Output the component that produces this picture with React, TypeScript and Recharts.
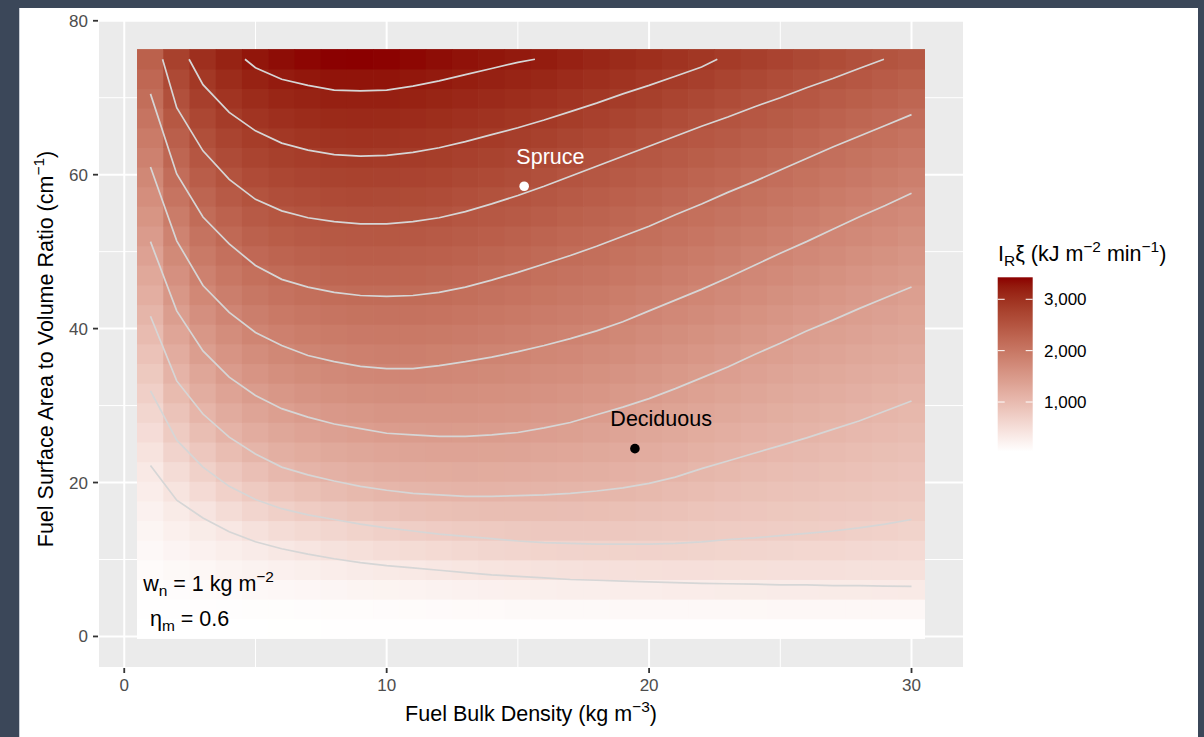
import React from "react";
import { ScatterChart, Scatter, XAxis, YAxis, CartesianGrid } from "recharts";

const FONT = '"Liberation Sans", Arial, Helvetica, sans-serif';

// grid of the raster: bulk density (kg m-3) by surface-area-to-volume ratio (cm-1)
const bulkDensity = [
  1, 2, 3, 4, 5, 6, 7, 8, 9, 10, 11, 12, 13, 14, 15, 16, 17, 18, 19, 20, 21,
  22, 23, 24, 25, 26, 27, 28, 29, 30,
];
const savRatio = [
  1.0, 3.55, 6.1, 8.66, 11.21, 13.76, 16.31, 18.86, 21.41, 23.97, 26.52, 29.07,
  31.62, 34.17, 36.72, 39.28, 41.83, 44.38, 46.93, 49.48, 52.03, 54.59, 57.14,
  59.69, 62.24, 64.79, 67.34, 69.9, 72.45, 75.0,
];

// I_R * xi (kJ m-2 min-1), one row per bulk density, low -> high SAV ratio
const intensity: number[][] = [
  [33, 45, 52, 88, 129, 176, 227, 282, 341, 426, 520, 615, 710, 804, 899, 994, 1089, 1183, 1278, 1372, 1467, 1562, 1657, 1751, 1847, 1944, 2040, 2137, 2234, 2331],
  [35, 50, 73, 123, 181, 247, 318, 414, 531, 649, 768, 887, 1006, 1118, 1219, 1321, 1421, 1522, 1623, 1724, 1826, 1932, 2038, 2143, 2250, 2356, 2463, 2570, 2677, 2784],
  [36, 55, 90, 152, 224, 304, 410, 549, 688, 823, 956, 1087, 1199, 1311, 1423, 1532, 1640, 1748, 1854, 1957, 2060, 2164, 2271, 2377, 2484, 2591, 2697, 2805, 2911, 3018],
  [37, 60, 108, 183, 269, 370, 525, 681, 827, 971, 1109, 1226, 1344, 1460, 1569, 1679, 1788, 1892, 1995, 2099, 2204, 2314, 2423, 2532, 2638, 2743, 2849, 2954, 3060, 3166],
  [38, 65, 126, 213, 313, 456, 622, 785, 940, 1093, 1214, 1334, 1454, 1566, 1678, 1790, 1896, 2002, 2107, 2214, 2320, 2427, 2534, 2637, 2740, 2843, 2952, 3064, 3176, 3288],
  [39, 68, 141, 238, 351, 523, 700, 871, 1041, 1173, 1294, 1415, 1529, 1641, 1753, 1862, 1969, 2075, 2181, 2285, 2388, 2491, 2595, 2700, 2804, 2910, 3021, 3132, 3242, 3357],
  [40, 72, 155, 262, 396, 576, 755, 932, 1100, 1223, 1345, 1466, 1580, 1695, 1809, 1912, 2016, 2119, 2221, 2323, 2425, 2528, 2632, 2736, 2841, 2948, 3057, 3167, 3279, 3395],
  [41, 76, 169, 286, 438, 618, 800, 984, 1139, 1263, 1387, 1505, 1619, 1732, 1841, 1943, 2045, 2147, 2247, 2347, 2447, 2549, 2654, 2760, 2865, 2974, 3083, 3193, 3305, 3420],
  [41, 81, 182, 308, 476, 660, 846, 1033, 1172, 1295, 1417, 1532, 1645, 1759, 1863, 1964, 2063, 2163, 2262, 2361, 2459, 2560, 2665, 2769, 2873, 2981, 3089, 3198, 3309, 3428],
  [42, 86, 194, 329, 508, 695, 882, 1070, 1197, 1322, 1445, 1554, 1664, 1773, 1874, 1972, 2069, 2167, 2265, 2362, 2460, 2560, 2663, 2766, 2869, 2977, 3085, 3193, 3304, 3416],
  [42, 91, 204, 346, 533, 724, 912, 1092, 1213, 1334, 1453, 1560, 1667, 1774, 1873, 1970, 2066, 2163, 2259, 2354, 2450, 2548, 2650, 2752, 2854, 2959, 3066, 3173, 3281, 3390],
  [42, 96, 215, 365, 560, 752, 932, 1102, 1223, 1344, 1460, 1560, 1660, 1760, 1858, 1955, 2051, 2148, 2242, 2336, 2429, 2524, 2626, 2728, 2830, 2933, 3039, 3145, 3250, 3357],
  [43, 101, 227, 388, 583, 773, 949, 1110, 1228, 1346, 1459, 1554, 1649, 1743, 1838, 1933, 2028, 2122, 2214, 2304, 2394, 2484, 2584, 2689, 2795, 2900, 3006, 3112, 3217, 3323],
  [43, 106, 240, 411, 606, 789, 956, 1110, 1224, 1340, 1451, 1541, 1631, 1721, 1812, 1904, 1995, 2087, 2179, 2271, 2363, 2455, 2550, 2655, 2759, 2863, 2970, 3077, 3183, 3290],
  [43, 111, 249, 427, 627, 803, 959, 1105, 1217, 1329, 1441, 1528, 1616, 1703, 1790, 1879, 1967, 2055, 2144, 2236, 2328, 2421, 2514, 2618, 2722, 2826, 2933, 3041, 3149, 3257],
  [43, 115, 259, 443, 643, 811, 959, 1099, 1205, 1310, 1416, 1507, 1594, 1680, 1767, 1852, 1936, 2021, 2105, 2192, 2285, 2378, 2471, 2570, 2677, 2783, 2891, 3004, 3118, 3231],
  [44, 120, 269, 457, 652, 812, 953, 1090, 1190, 1290, 1390, 1483, 1569, 1654, 1740, 1825, 1905, 1986, 2066, 2147, 2237, 2331, 2423, 2516, 2625, 2734, 2843, 2955, 3067, 3179],
  [44, 122, 275, 464, 659, 812, 945, 1078, 1171, 1264, 1357, 1449, 1535, 1621, 1706, 1793, 1875, 1957, 2039, 2121, 2206, 2295, 2383, 2471, 2570, 2682, 2794, 2906, 3017, 3127],
  [44, 125, 281, 470, 661, 807, 933, 1058, 1153, 1242, 1330, 1418, 1502, 1585, 1668, 1751, 1833, 1915, 1997, 2079, 2161, 2250, 2338, 2426, 2514, 2626, 2740, 2853, 2965, 3075],
  [44, 127, 287, 475, 662, 800, 916, 1033, 1129, 1213, 1297, 1380, 1463, 1543, 1624, 1705, 1785, 1868, 1952, 2035, 2118, 2205, 2293, 2381, 2469, 2570, 2686, 2803, 2916, 3026],
  [44, 130, 293, 477, 657, 789, 896, 1003, 1102, 1182, 1262, 1342, 1422, 1502, 1581, 1662, 1741, 1822, 1905, 1987, 2070, 2153, 2243, 2333, 2423, 2513, 2628, 2746, 2864, 2977],
  [45, 133, 299, 477, 647, 775, 872, 969, 1065, 1146, 1224, 1302, 1380, 1458, 1538, 1618, 1698, 1777, 1859, 1942, 2025, 2108, 2194, 2284, 2375, 2466, 2569, 2688, 2808, 2925],
  [45, 134, 303, 473, 633, 761, 851, 941, 1031, 1115, 1190, 1265, 1340, 1416, 1493, 1573, 1652, 1731, 1811, 1893, 1976, 2059, 2142, 2233, 2327, 2420, 2514, 2631, 2748, 2866],
  [45, 136, 306, 472, 625, 751, 835, 918, 1002, 1085, 1156, 1228, 1300, 1372, 1444, 1523, 1602, 1681, 1761, 1842, 1926, 2011, 2095, 2182, 2277, 2371, 2466, 2571, 2688, 2806],
  [45, 139, 313, 470, 614, 740, 819, 897, 976, 1054, 1127, 1196, 1265, 1334, 1403, 1476, 1555, 1633, 1712, 1790, 1874, 1960, 2045, 2130, 2223, 2320, 2418, 2516, 2633, 2751],
  [45, 139, 313, 465, 602, 730, 804, 879, 953, 1027, 1099, 1165, 1231, 1297, 1363, 1429, 1506, 1585, 1664, 1744, 1824, 1910, 1995, 2080, 2165, 2265, 2365, 2465, 2573, 2691],
  [45, 142, 320, 464, 594, 722, 791, 861, 930, 1000, 1070, 1135, 1200, 1264, 1329, 1394, 1462, 1540, 1618, 1696, 1773, 1857, 1943, 2028, 2114, 2208, 2311, 2415, 2518, 2635],
  [45, 142, 320, 459, 581, 704, 777, 843, 909, 976, 1042, 1106, 1169, 1232, 1295, 1358, 1421, 1494, 1571, 1648, 1725, 1803, 1891, 1978, 2065, 2153, 2256, 2360, 2465, 2575],
  [45, 144, 324, 454, 568, 682, 762, 824, 887, 949, 1012, 1074, 1137, 1199, 1262, 1324, 1387, 1451, 1528, 1604, 1681, 1758, 1839, 1928, 2016, 2104, 2199, 2307, 2413, 2520],
  [45, 145, 327, 449, 555, 660, 746, 806, 865, 925, 985, 1044, 1105, 1167, 1229, 1291, 1353, 1415, 1485, 1560, 1636, 1711, 1786, 1874, 1964, 2054, 2144, 2250, 2359, 2469],
];

// contour lines (y at each bulk density)
const contour1Y = [22.2, 17.7, 15.4, 13.6, 12.3, 11.4, 10.7, 10.1, 9.6, 9.2, 8.9, 8.6, 8.3, 8.0, 7.8, 7.6, 7.4, 7.3, 7.2, 7.1, 7.0, 6.9, 6.85, 6.8, 6.7, 6.7, 6.6, 6.6, 6.55, 6.5];
const contour2Y = [31.9, 25.5, 22.0, 19.5, 17.8, 16.6, 15.8, 15.2, 14.6, 14.1, 13.7, 13.3, 13.0, 12.7, 12.4, 12.2, 12.1, 12.0, 12.0, 12.0, 12.1, 12.3, 12.6, 12.8, 13.1, 13.4, 13.7, 14.1, 14.6, 15.2];
const contour3Y = [41.6, 33.2, 28.9, 25.9, 23.7, 22.0, 21.0, 20.2, 19.5, 19.0, 18.6, 18.4, 18.2, 18.2, 18.3, 18.4, 18.6, 18.9, 19.3, 19.9, 20.7, 21.8, 22.8, 23.8, 24.8, 25.8, 26.9, 28.0, 29.3, 30.6];
const contour4Y = [51.3, 42.3, 37.1, 33.7, 31.3, 29.6, 28.5, 27.6, 27.0, 26.4, 26.2, 26.0, 26.0, 26.2, 26.5, 27.1, 27.8, 28.8, 29.8, 30.9, 32.2, 33.6, 35.0, 36.6, 38.1, 39.7, 41.1, 42.6, 44.0, 45.4];
const contour5Y = [61.0, 51.4, 45.6, 42.1, 39.5, 37.8, 36.5, 35.7, 35.1, 34.8, 34.8, 35.2, 35.7, 36.3, 37.0, 37.8, 38.7, 39.7, 40.9, 42.3, 43.7, 45.1, 46.6, 48.2, 49.8, 51.3, 52.9, 54.5, 56.0, 57.6];
const contour6Y = [70.5, 60.1, 54.5, 51.0, 48.2, 46.4, 45.4, 44.7, 44.3, 44.2, 44.3, 44.7, 45.4, 46.3, 47.3, 48.4, 49.5, 50.7, 52.0, 53.3, 54.8, 56.2, 57.7, 59.1, 60.6, 62.1, 63.6, 65.0, 66.4, 67.8];
const contour7X = [1.46, 2, 3, 4, 5, 6, 7, 8, 9, 10, 11, 12, 13, 14, 15, 16, 17, 18, 19, 20, 21, 22, 23, 24, 25, 26, 27, 28, 28.95];
const contour7Y = [75, 68.7, 63.1, 59.4, 56.8, 55.3, 54.4, 53.9, 53.6, 53.6, 53.9, 54.4, 55.2, 56.2, 57.3, 58.5, 59.8, 61.1, 62.4, 63.7, 65.0, 66.3, 67.5, 68.8, 70.0, 71.3, 72.5, 73.8, 75];
const contour8X = [2.47, 3, 4, 5, 6, 7, 8, 9, 10, 11, 12, 13, 14, 15, 16, 17, 18, 19, 20, 21, 22, 22.6];
const contour8Y = [75, 71.7, 68.1, 65.7, 64.1, 63.2, 62.6, 62.4, 62.5, 62.9, 63.5, 64.3, 65.2, 66.1, 67.1, 68.2, 69.3, 70.5, 71.6, 72.8, 74.0, 75];
const contour9X = [4.6, 5, 6, 7, 8, 9, 10, 11, 12, 13, 14, 15, 15.65];
const contour9Y = [75, 73.9, 72.4, 71.6, 71.0, 70.9, 71.0, 71.5, 72.2, 73.0, 73.8, 74.6, 75];

const siteNames = ["Spruce", "Deciduous"];
const siteX = [15.24, 19.46];
const siteY = [58.5, 24.4];
const siteColors = ["#ffffff", "#000000"];
const labelNudge = { x: 1, y: 2.9 };

const xTicks = [0, 10, 20, 30];
const yTicks = [0, 20, 40, 60, 80];
const xMinor = [5, 15, 25];
const yMinor = [10, 30, 50, 70];
const legendTicks = [1000, 2000, 3000];

const X_DOMAIN: [number, number] = [-1, 32];
const Y_DOMAIN: [number, number] = [-4.1, 80.1];
const PLOT = { left: 98, top: 20, width: 866, height: 648 };

// ---- colour scale: white -> darkred, interpolated in Lab like ggplot ----
const toLin = (c: number) => {
  const v = c / 255;
  return v <= 0.04045 ? v / 12.92 : Math.pow((v + 0.055) / 1.055, 2.4);
};
const fromLin = (c: number) => {
  const v = c <= 0.0031308 ? 12.92 * c : 1.055 * Math.pow(c, 1 / 2.4) - 0.055;
  return Math.round(Math.max(0, Math.min(1, v)) * 255);
};
function rgbToLab([r, g, b]: number[]) {
  const R = toLin(r), G = toLin(g), B = toLin(b);
  const X = (0.4124 * R + 0.3576 * G + 0.1805 * B) / 0.95047;
  const Y = 0.2126 * R + 0.7152 * G + 0.0722 * B;
  const Z = (0.0193 * R + 0.1192 * G + 0.9505 * B) / 1.08883;
  const f = (t: number) => (t > 0.008856 ? Math.cbrt(t) : 7.787 * t + 16 / 116);
  const fx = f(X), fy = f(Y), fz = f(Z);
  return [116 * fy - 16, 500 * (fx - fy), 200 * (fy - fz)];
}
function labToRgb([L, a, b]: number[]) {
  const fy = (L + 16) / 116;
  const fx = fy + a / 500;
  const fz = fy - b / 200;
  const inv = (t: number) => (t * t * t > 0.008856 ? t * t * t : (t - 16 / 116) / 7.787);
  const X = inv(fx) * 0.95047, Y = inv(fy), Z = inv(fz) * 1.08883;
  const R = 3.2406 * X - 1.5372 * Y - 0.4986 * Z;
  const G = -0.9689 * X + 1.8758 * Y + 0.0415 * Z;
  const B = 0.0557 * X - 0.204 * Y + 1.057 * Z;
  return `rgb(${fromLin(R)},${fromLin(G)},${fromLin(B)})`;
}
const LOW_LAB = rgbToLab([255, 255, 255]);
const HIGH_LAB = rgbToLab([139, 0, 0]);

const allValues = intensity.flat();
const V_MIN = Math.min(...allValues);
const V_MAX = Math.max(...allValues);

function fillFor(v: number) {
  const t = Math.max(0, Math.min(1, (v - V_MIN) / (V_MAX - V_MIN)));
  return labToRgb(LOW_LAB.map((l, i) => l + (HIGH_LAB[i] - l) * t));
}

// ---- data for the series ----
const cells = bulkDensity.flatMap((x, i) =>
  savRatio.map((y, j) => ({ x, y, v: intensity[i][j] }))
);
const zip = (xs: number[], ys: number[]) => xs.map((x, i) => ({ x, y: ys[i] }));
const contours = [
  zip(bulkDensity, contour1Y),
  zip(bulkDensity, contour2Y),
  zip(bulkDensity, contour3Y),
  zip(bulkDensity, contour4Y),
  zip(bulkDensity, contour5Y),
  zip(bulkDensity, contour6Y),
  zip(contour7X, contour7Y),
  zip(contour8X, contour8Y),
  zip(contour9X, contour9Y),
];
const sites = siteNames.map((name, i) => ({ name, x: siteX[i], y: siteY[i], color: siteColors[i] }));
const siteLabels = sites.map((s) => ({ ...s, x: s.x + labelNudge.x, y: s.y + labelNudge.y }));
const notes = [
  { x: 0.72, y: 5.9, key: "w" },
  { x: 0.98, y: 1.35, key: "eta" },
];

const CELL_W = (PLOT.width / (X_DOMAIN[1] - X_DOMAIN[0])) * (bulkDensity[1] - bulkDensity[0]);
const CELL_H =
  (PLOT.height / (Y_DOMAIN[1] - Y_DOMAIN[0])) *
  ((savRatio[savRatio.length - 1] - savRatio[0]) / (savRatio.length - 1));
// small overlap so neighbouring tiles do not leave bright seams
const SEAM = 0.35;

type Seg = { t: string; sub?: boolean; sup?: boolean };

function RichText(props: {
  x: number;
  y: number;
  segs: Seg[];
  size: number;
  fill: string;
  anchor?: "start" | "middle" | "end";
  transform?: string;
}) {
  const { x, y, segs, size, fill, anchor = "start", transform } = props;
  let shift = 0;
  return (
    <text x={x} y={y} fill={fill} fontSize={size} fontFamily={FONT} textAnchor={anchor} transform={transform}>
      {segs.map((s, i) => {
        const target = s.sub ? size * 0.24 : s.sup ? -size * 0.42 : 0;
        const dy = target - shift;
        shift = target;
        return (
          <tspan key={i} dy={dy} fontSize={s.sub || s.sup ? size * 0.72 : size}>
            {s.t}
          </tspan>
        );
      })}
    </text>
  );
}

const CellShape = (props: any) => {
  const { cx, cy, payload } = props;
  return (
    <rect
      x={cx - CELL_W / 2 - SEAM}
      y={cy - CELL_H / 2 - SEAM}
      width={CELL_W + 2 * SEAM}
      height={CELL_H + 2 * SEAM}
      fill={fillFor(payload.v)}
    />
  );
};
const NoShape = () => <g />;
const SiteShape = (props: any) => (
  <circle cx={props.cx} cy={props.cy} r={4.8} fill={props.payload.color} />
);
const SiteLabelShape = (props: any) => (
  <text x={props.cx} y={props.cy} fill={props.payload.color} fontSize={21.5} fontFamily={FONT} textAnchor="middle">
    {props.payload.name}
  </text>
);
const NoteShape = (props: any) =>
  props.payload.key === "w" ? (
    <RichText
      x={props.cx}
      y={props.cy}
      size={21.5}
      fill="#000"
      segs={[{ t: "w" }, { t: "n", sub: true }, { t: " = 1 kg m" }, { t: "−2", sup: true }]}
    />
  ) : (
    <RichText
      x={props.cx}
      y={props.cy}
      size={21.5}
      fill="#000"
      segs={[{ t: "η" }, { t: "m", sub: true }, { t: " = 0.6" }]}
    />
  );

const minorVertical = (p: any) => {
  const s = p?.xAxis?.scale;
  if (typeof s === "function") return xMinor.map((v) => s(v));
  const o = p.offset;
  return xMinor.map((v) => o.left + ((v - X_DOMAIN[0]) / (X_DOMAIN[1] - X_DOMAIN[0])) * o.width);
};
const minorHorizontal = (p: any) => {
  const s = p?.yAxis?.scale;
  if (typeof s === "function") return yMinor.map((v) => s(v));
  const o = p.offset;
  return yMinor.map((v) => o.top + ((Y_DOMAIN[1] - v) / (Y_DOMAIN[1] - Y_DOMAIN[0])) * o.height);
};

const BAR = { x: 997.7, top: 277.3, bottom: 451.7, width: 35 };
const barY = (v: number) => BAR.bottom - ((v - V_MIN) / (V_MAX - V_MIN)) * (BAR.bottom - BAR.top);
const gradientStops = Array.from({ length: 21 }, (_, i) => i / 20);

export default function App() {
  return (
    <div style={{ position: "absolute", left: 0, top: 0, width: 1204, height: 737, background: "#3b4759", overflow: "hidden" }}>
      <div style={{ position: "absolute", left: 19, top: 8, width: 1178, height: 729, background: "#ffffff", borderLeft: "1px solid #c9ced6" }} />
      <div style={{ position: "absolute", left: 0, top: 0 }}>
        <ScatterChart width={1204} height={737} margin={{ top: 20, right: 240, bottom: 39, left: 38 }}>
          <CartesianGrid fill="#ebebeb" fillOpacity={1} stroke="#ffffff" strokeWidth={2} />
          <CartesianGrid
            stroke="#ffffff"
            strokeWidth={1}
            verticalCoordinatesGenerator={minorVertical}
            horizontalCoordinatesGenerator={minorHorizontal}
          />
          <XAxis
            type="number"
            dataKey="x"
            domain={X_DOMAIN}
            ticks={xTicks}
            interval={0}
            allowDataOverflow
            axisLine={false}
            tickLine={{ stroke: "#333333", strokeWidth: 1.8 }}
            tickSize={5}
            tickMargin={6}
            tick={{ fill: "#4d4d4d", fontSize: 17, fontFamily: FONT }}
          />
          <YAxis
            type="number"
            dataKey="y"
            domain={Y_DOMAIN}
            ticks={yTicks}
            interval={0}
            allowDataOverflow
            axisLine={false}
            tickLine={{ stroke: "#333333", strokeWidth: 1.8 }}
            tickSize={5}
            tickMargin={5}
            tick={{ fill: "#4d4d4d", fontSize: 17, fontFamily: FONT }}
          />
          <Scatter data={cells} shape={CellShape} isAnimationActive={false} />
          {contours.map((pts, i) => (
            <Scatter
              key={`contour-${i}`}
              data={pts}
              line={{ stroke: "#d6d6d6", strokeWidth: 1.7 }}
              lineJointType="linear"
              shape={NoShape}
              isAnimationActive={false}
            />
          ))}
          <Scatter data={sites} shape={SiteShape} isAnimationActive={false} />
          <Scatter data={siteLabels} shape={SiteLabelShape} isAnimationActive={false} />
          <Scatter data={notes} shape={NoteShape} isAnimationActive={false} />
        </ScatterChart>
      </div>
      <svg width={1204} height={737} style={{ position: "absolute", left: 0, top: 0, pointerEvents: "none" }}>
        <defs>
          <linearGradient id="barFill" x1="0" y1="1" x2="0" y2="0">
            {gradientStops.map((t) => (
              <stop key={t} offset={t} stopColor={fillFor(V_MIN + t * (V_MAX - V_MIN))} />
            ))}
          </linearGradient>
        </defs>
        <RichText
          x={531}
          y={721}
          size={21.5}
          fill="#000"
          anchor="middle"
          segs={[{ t: "Fuel Bulk Density (kg m" }, { t: "−3", sup: true }, { t: ")" }]}
        />
        <RichText
          x={53}
          y={349}
          size={21.5}
          fill="#000"
          anchor="middle"
          transform="rotate(-90 53 349)"
          segs={[{ t: "Fuel Surface Area to Volume Ratio (cm" }, { t: "−1", sup: true }, { t: ")" }]}
        />
        <RichText
          x={998}
          y={261}
          size={21.5}
          fill="#000"
          segs={[
            { t: "I" },
            { t: "R", sub: true },
            { t: "ξ (kJ m" },
            { t: "−2", sup: true },
            { t: " min" },
            { t: "−1", sup: true },
            { t: ")" },
          ]}
        />
        <rect x={BAR.x} y={BAR.top} width={BAR.width} height={BAR.bottom - BAR.top} fill="url(#barFill)" />
        {legendTicks.map((v) => (
          <g key={v}>
            <line x1={BAR.x} x2={BAR.x + 7} y1={barY(v)} y2={barY(v)} stroke="#ffffff" strokeWidth={1} />
            <line x1={BAR.x + BAR.width - 7} x2={BAR.x + BAR.width} y1={barY(v)} y2={barY(v)} stroke="#ffffff" strokeWidth={1} />
            <text x={1044} y={barY(v)} dy="0.36em" fontSize={17} fontFamily={FONT} fill="#000">
              {v.toLocaleString("en-US")}
            </text>
          </g>
        ))}
      </svg>
    </div>
  );
}
